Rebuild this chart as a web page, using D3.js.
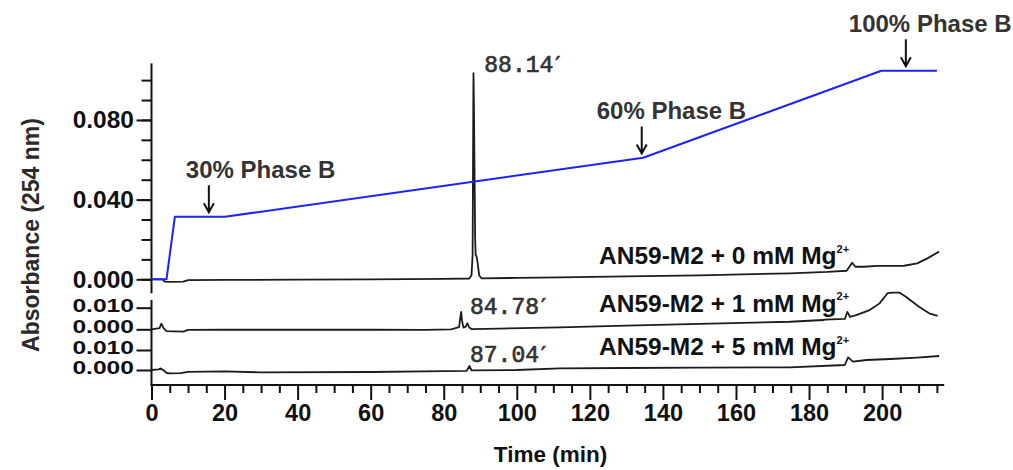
<!DOCTYPE html>
<html>
<head>
<meta charset="utf-8">
<script src="https://cdn.jsdelivr.net/npm/d3@7"></script>
<style>
  html, body { margin: 0; padding: 0; background: #fff; }
  svg { display: block; font-family: "Liberation Sans", Arial, sans-serif; }
</style>
</head>
<body>
<svg id="chart" width="1013" height="470"></svg>
<script>
// ---------------- DATA ----------------
const xTickValues = [0, 20, 40, 60, 80, 100, 120, 140, 160, 180, 200];
const topTickValues = [0, 0.04, 0.08];
const lowTickValues = [0, 0.01];

// Gradient (blue), drawn on the top absorbance scale
const gradTime = [0, 4.1, 6.4, 20.1, 134.6, 199.8, 215];
const gradAbs  = [0, 0, 0.0314, 0.0314, 0.061, 0.1047, 0.1047];

// AN59-M2 + 0 mM Mg2+
const t0Time = [0, 3, 3.6, 5, 8.7, 10, 20, 40, 60, 80, 87.0, 87.6, 87.9, 88.05, 88.14, 88.25, 88.45, 88.6, 88.75, 89.0, 89.3, 89.7, 90.3, 100, 111.8, 130, 150, 174.8, 185, 190.3, 191.8, 192.7, 195, 198.6, 202.3, 206, 209.6, 212.4, 215.6];
const t0Abs  = [0, 0, -0.0012, -0.0013, -0.0012, -0.0004, -0.0003, -0.0002, 0.0, 0.0002, 0.0004, 0.002, 0.012, 0.07, 0.1035, 0.09, 0.05, 0.02, 0.012, 0.0115, 0.008, 0.002, 0.0005, 0.0007, 0.001, 0.0015, 0.002, 0.003, 0.0037, 0.0043, 0.0083, 0.0063, 0.0063, 0.0067, 0.0067, 0.0068, 0.008, 0.0105, 0.0139];

// AN59-M2 + 1 mM Mg2+
const t1Time = [0, 2.2, 2.7, 3.3, 4.1, 8.7, 10, 20, 40, 60, 75, 82, 84.2, 84.5, 84.78, 85.0, 85.4, 86.0, 86.5, 87.0, 87.6, 95, 111.8, 130, 150, 174.8, 183.9, 184.3, 189.8, 190.5, 191.2, 192.9, 196.6, 199.3, 201.5, 202.9, 204.7, 206.5, 210.1, 212.9, 215.2];
const t1Abs  = [0, 0.0005, 0.0026, 0.0005, -0.0008, -0.0011, -0.0003, -0.0002, -0.0002, -0.0002, -0.0003, 0.0, 0.001, 0.005, 0.0081, 0.004, 0.0008, 0.0012, 0.0028, 0.0008, 0.0001, 0.0003, 0.0009, 0.0017, 0.0025, 0.0035, 0.0043, 0.0045, 0.0048, 0.0081, 0.0058, 0.0066, 0.0089, 0.012, 0.0167, 0.017, 0.017, 0.0151, 0.0104, 0.0074, 0.0062];

// AN59-M2 + 5 mM Mg2+
const t2Time = [0, 2.0, 2.5, 3.2, 4.2, 5, 8, 10, 20, 30, 60, 80, 86.3, 87.04, 87.6, 100, 111.8, 130, 150, 174.8, 189.8, 190.7, 192, 195.7, 202.3, 209.6, 215.6];
const t2Abs  = [0, 0.0003, 0.0008, 0.0, -0.0015, -0.0017, -0.0016, -0.0009, -0.0007, -0.0012, -0.001, -0.0006, -0.0004, 0.002, -0.0002, 0.0, 0.0008, 0.001, 0.0012, 0.0013, 0.0025, 0.0063, 0.0042, 0.005, 0.0055, 0.0062, 0.007];

const traceNames = ["AN59-M2 + 0 mM Mg", "AN59-M2 + 1 mM Mg", "AN59-M2 + 5 mM Mg"];
const peakLabels = ["88.14", "84.78", "87.04"];
const phaseLabels = ["30% Phase B", "60% Phase B", "100% Phase B"];
const phaseArrowTime = [15.7, 134.2, 206.5];

// ---------------- LAYOUT ----------------
const svg = d3.select("#chart");
const x = d3.scaleLinear().domain([0, 217]).range([151.5, 944.2]);
const yTop = d3.scaleLinear().domain([0, 0.1]).range([279.3, 80.1]);
const y1 = d3.scaleLinear().domain([0, 0.01]).range([329.3, 307.7]);
const y2 = d3.scaleLinear().domain([0, 0.01]).range([370, 350]);
const xAxisY = 385;

// ---------------- AXES ----------------
const axisColor = "#111";
function styleAxis(g) {
  g.select(".domain").remove();
  g.selectAll(".tick line").attr("stroke", axisColor).attr("stroke-width", 2);
  g.selectAll(".tick text").attr("fill", "#111").attr("font-weight", "bold")
    .attr("font-family", "'Liberation Sans', Arial, sans-serif");
}

// x axis
const gx = svg.append("g").attr("transform", `translate(0,${xAxisY})`);
gx.call(d3.axisBottom(x).tickValues(d3.range(5, 216, 5).filter(v => v % 20 !== 0)).tickSize(8).tickFormat(""));
styleAxis(gx);
const gx2 = svg.append("g").attr("transform", `translate(0,${xAxisY})`);
gx2.call(d3.axisBottom(x).tickValues(xTickValues).tickSize(15).tickPadding(4.5).tickFormat(d3.format("d")));
styleAxis(gx2);
gx2.selectAll(".tick text").attr("font-size", 23.5);
svg.append("line").attr("x1", x(0) - 1).attr("x2", x(217)).attr("y1", xAxisY).attr("y2", xAxisY)
  .attr("stroke", axisColor).attr("stroke-width", 2);

// top y axis
const gyMinor = svg.append("g").attr("transform", `translate(${x(0)},0)`);
gyMinor.call(d3.axisLeft(yTop).tickValues(d3.range(0, 0.1001, 0.01)).tickSize(10).tickFormat(""));
styleAxis(gyMinor);
const gyTop = svg.append("g").attr("transform", `translate(${x(0)},0)`);
gyTop.call(d3.axisLeft(yTop).tickValues(topTickValues).tickSize(15).tickPadding(2.5).tickFormat(d3.format(".3f")));
styleAxis(gyTop);
gyTop.selectAll(".tick text").attr("font-size", 24.5);
svg.append("line").attr("x1", x(0)).attr("x2", x(0)).attr("y1", yTop(0.1084)).attr("y2", yTop(-0.007))
  .attr("stroke", axisColor).attr("stroke-width", 2);

// lower y axis (two stacked traces) - labels squeezed vertically as in the original
[y1, y2].forEach(sc => {
  const g = svg.append("g").attr("transform", `translate(${x(0)},0)`);
  g.call(d3.axisLeft(sc).tickValues(lowTickValues).tickSize(15).tickPadding(2.5).tickFormat(d3.format(".3f")));
  styleAxis(g);
  g.selectAll(".tick text").attr("font-size", 22)
    .attr("x", -17.5 / 1.12).attr("y", -3)
    .attr("transform", "scale(1.12,0.82)");
});
svg.append("line").attr("x1", x(0)).attr("x2", x(0)).attr("y1", 300).attr("y2", xAxisY)
  .attr("stroke", axisColor).attr("stroke-width", 2);

// axis titles
svg.append("text").attr("transform", "translate(39,235) rotate(-90)")
  .attr("text-anchor", "middle").attr("font-size", 23).attr("font-weight", "bold").attr("fill", "#2a2a2a")
  .text("Absorbance (254 nm)");
svg.append("text").attr("x", 550.5).attr("y", 462).attr("text-anchor", "middle")
  .attr("font-size", 22.5).attr("font-weight", "bold").attr("fill", "#111").text("Time (min)");

// ---------------- LINES ----------------
function drawLine(times, vals, sc, color, width) {
  const pts = times.map((t, i) => [t, vals[i]]);
  svg.append("path").datum(pts)
    .attr("fill", "none").attr("stroke", color).attr("stroke-width", width)
    .attr("stroke-linejoin", "round")
    .attr("d", d3.line().x(d => x(d[0])).y(d => sc(d[1])));
}
drawLine(t0Time, t0Abs, yTop, "#1c1c1c", 1.8);
drawLine(t1Time, t1Abs, y1, "#1c1c1c", 1.8);
drawLine(t2Time, t2Abs, y2, "#1c1c1c", 1.8);
drawLine(gradTime, gradAbs, yTop, "#1f22f5", 2);

// ---------------- TRACE LABELS ----------------
const traceLabelBase = [264.3, 311.7, 355];
traceNames.forEach((name, i) => {
  const t = svg.append("text").attr("x", 599).attr("y", traceLabelBase[i])
    .attr("font-size", 24.5).attr("font-weight", "bold").attr("fill", "#111");
  t.append("tspan").text(name);
  t.append("tspan").attr("font-size", 11).attr("dy", -11.5).text("2+");
});

// peak labels (monospace) with prime mark
const peakPos = [[484.3, 72], [470, 314], [470, 362]];
peakLabels.forEach((lab, i) => {
  const t = svg.append("text").attr("x", peakPos[i][0]).attr("y", peakPos[i][1])
    .attr("font-family", "'Liberation Mono', 'Courier New', monospace")
    .attr("font-size", 23).attr("fill", "#333").attr("stroke", "#333").attr("stroke-width", 0.7);
  t.append("tspan").text(lab);
  t.append("tspan").attr("font-family", "'DejaVu Sans', sans-serif").attr("font-size", 22)
    .attr("dx", 2).text("\u2032");
});

// ---------------- PHASE ANNOTATIONS ----------------
const gradAt = t => {
  for (let i = 1; i < gradTime.length; i++) {
    if (t <= gradTime[i]) {
      const f = (t - gradTime[i - 1]) / (gradTime[i] - gradTime[i - 1]);
      return gradAbs[i - 1] + f * (gradAbs[i] - gradAbs[i - 1]);
    }
  }
  return gradAbs[gradAbs.length - 1];
};
const labelDx = [-23, -45, -57];
phaseArrowTime.forEach((t, i) => {
  const ax = x(t);
  const tip = yTop(gradAt(t)) - 4.5;
  const top = tip - 27;
  svg.append("path")
    .attr("d", `M${ax},${top} L${ax},${tip} M${ax - 5},${tip - 9} L${ax},${tip} L${ax + 5},${tip - 9}`)
    .attr("fill", "none").attr("stroke", "#111").attr("stroke-width", 2);
  svg.append("text").attr("x", ax + labelDx[i]).attr("y", top - 7)
    .attr("font-size", 24).attr("font-weight", "bold").attr("fill", "#333")
    .text(phaseLabels[i]);
});
</script>
</body>
</html>
